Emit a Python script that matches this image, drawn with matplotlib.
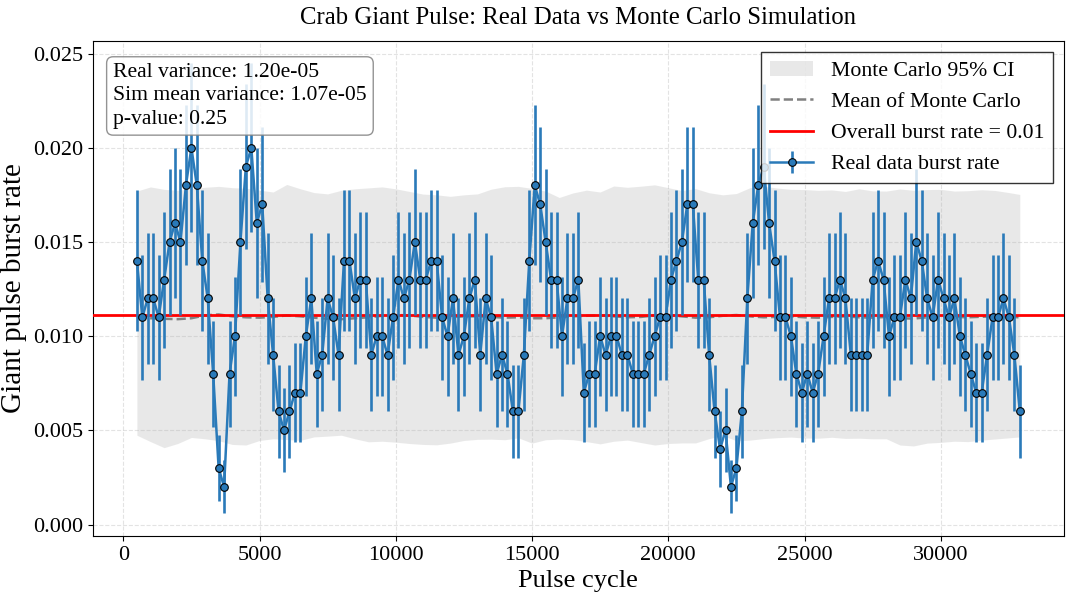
import numpy as np
import matplotlib
matplotlib.use('Agg')
import matplotlib.pyplot as plt
from matplotlib.patches import Patch
from matplotlib.lines import Line2D

plt.rcParams['font.family'] = ['Liberation Serif', 'DejaVu Serif']

# ── Real data: giant pulses per 1000-cycle window, window step 200
window_size = 1000
start_cycle = 500
step = 200
counts = [
    14, 11, 12, 12, 11, 13, 15, 16, 15, 18, 20, 18, 14, 12, 8, 3, 2, 8, 10, 15,
    19, 20, 16, 17, 12, 9, 6, 5, 6, 7, 7, 10, 12, 8, 9, 12, 11, 9, 14, 14,
    12, 13, 13, 9, 10, 10, 9, 11, 13, 12, 13, 15, 13, 13, 14, 14, 11, 10, 12, 9,
    10, 12, 13, 9, 12, 11, 8, 9, 8, 6, 6, 9, 14, 18, 17, 15, 13, 13, 10, 12,
    12, 13, 7, 8, 8, 10, 9, 10, 10, 9, 9, 8, 8, 8, 9, 10, 11, 11, 13, 14,
    15, 17, 17, 13, 13, 9, 6, 4, 5, 2, 3, 6, 12, 16, 18, 19, 16, 14, 11, 11,
    10, 8, 7, 8, 7, 8, 10, 12, 12, 13, 12, 9, 9, 9, 9, 13, 14, 13, 10, 11,
    11, 13, 12, 15, 14, 12, 11, 13, 12, 11, 12, 10, 9, 8, 7, 7, 9, 11, 11, 12,
    11, 9, 6,
]

# ── Monte Carlo summary (per 1000 cycles), read at coarser cycle positions
mc_cycles = [
    500, 1000, 1500, 2000, 2500, 3000, 3500, 4000, 4500, 5000, 5500, 6000,
    6500, 7000, 7500, 8000, 8500, 9000, 9500, 10000, 10500, 11000, 11500,
    12000, 12500, 13000, 13500, 14000, 14500, 15000, 15500, 16000, 16500,
    17000, 17500, 18000, 18500, 19000, 19500, 20000, 20500, 21000, 21500,
    22000, 22500, 23000, 23500, 24000, 24500, 25000, 25500, 26000, 26500,
    27000, 27500, 28000, 28500, 29000, 29500, 30000, 30500, 31000, 31500,
    32000, 32500, 32900,
]
mc_upper = [
    17.70, 17.92, 17.79, 17.74, 17.83, 17.90, 17.95, 17.88, 17.85, 17.75, 17.65, 18.05,
    17.82, 17.62, 17.55, 17.74, 17.82, 17.87, 17.92, 17.82, 17.68, 17.54, 17.50,
    17.42, 17.50, 17.55, 17.80, 17.93, 17.95, 17.84, 17.70, 17.36, 17.60,
    17.75, 17.65, 17.97, 17.90, 17.96, 18.03, 17.88, 17.73, 17.83, 17.61,
    17.50, 17.57, 17.88, 17.95, 17.86, 17.79, 17.78, 17.74, 17.76, 17.68,
    17.82, 17.71, 17.70, 17.81, 17.74, 17.78, 17.79, 17.70, 17.72, 17.77,
    17.73, 17.62, 17.52,
]
mc_lower = [
    4.74, 4.40, 4.08, 4.30, 4.62, 4.55, 4.45, 4.25, 4.22, 4.46, 4.55, 4.51,
    4.47, 4.65, 4.69, 4.74, 4.55, 4.39, 4.42, 4.37, 4.30, 4.25, 4.23,
    4.32, 4.46, 4.52, 4.53, 4.50, 4.60, 4.32, 4.50, 4.53, 4.50,
    4.40, 4.28, 4.42, 4.48, 4.35, 4.22, 4.30, 4.33, 4.33, 4.56,
    4.72, 4.45, 4.48, 4.56, 4.61, 4.64, 4.59, 4.58, 4.63, 4.57,
    4.58, 4.55, 4.55, 4.22, 4.17, 4.32, 4.36, 4.42, 4.40, 4.48,
    4.54, 4.60, 4.65,
]
mc_mean = [
    11.00, 10.95, 10.92, 10.90, 10.95, 11.10, 11.15, 11.05, 11.00, 10.98, 11.02, 11.10,
    11.05, 10.98, 10.92, 10.90, 10.95, 11.00, 11.08, 11.12, 11.10, 11.02, 10.98,
    11.00, 11.05, 11.05, 11.02, 10.98, 11.00, 10.95, 10.95, 11.00, 11.05,
    11.08, 11.10, 11.05, 11.00, 11.02, 11.10, 11.12, 11.05, 10.98, 11.00,
    11.08, 11.12, 11.05, 11.00, 11.02, 11.05, 11.00, 10.98, 11.02, 11.05,
    11.00, 10.98, 11.02, 10.95, 10.93, 11.00, 11.05, 11.02, 11.00, 11.03,
    11.05, 11.02, 11.00,
]

overall_rate = 0.0111
real_var = 1.20e-05
sim_var = 1.07e-05
p_value = 0.25

# ── derived arrays
counts = np.array(counts)
cycles = start_cycle + step * np.arange(len(counts))
rate = counts / window_size
rate_err = np.sqrt(counts) / window_size
mc_cycles = np.array(mc_cycles)
mc_upper = np.array(mc_upper) / window_size
mc_lower = np.array(mc_lower) / window_size
mc_mean = np.array(mc_mean) / window_size

fig, ax = plt.subplots(figsize=(10.72, 6), dpi=100)
fig.subplots_adjust(left=0.0865, right=0.9925, top=0.9317, bottom=0.1067)

ax.fill_between(mc_cycles, mc_lower, mc_upper, color='lightgray', alpha=0.5,
                linewidth=0, zorder=1)
ax.plot(mc_cycles, mc_mean, color='gray', ls='--', lw=1.8, zorder=2)
ax.axhline(overall_rate, color='red', lw=2, zorder=3)
ax.errorbar(cycles, rate, yerr=rate_err, fmt='-o', color='#2a7ab9', lw=1.8,
            elinewidth=1.9, capsize=0, markersize=5.5, markerfacecolor='#2a7ab9',
            markeredgecolor='black', markeredgewidth=0.8, zorder=4)

ax.set_title('Crab Giant Pulse: Real Data vs Monte Carlo Simulation', fontsize=17.8, pad=12)
ax.set_xlabel('Pulse cycle', fontsize=19)
ax.set_ylabel('Giant pulse burst rate', fontsize=21)
ax.tick_params(labelsize=16)
ax.grid(True, ls='--', alpha=0.35)

stats_text = (f'Real variance: {real_var:.2e}\n'
              f'Sim mean variance: {sim_var:.2e}\n'
              f'p-value: {p_value:.2f}')
ax.text(0.021, 0.955, stats_text, transform=ax.transAxes, fontsize=15.6, va='top',
        linespacing=1.3, zorder=6,
        bbox=dict(boxstyle='round', facecolor='white', edgecolor='gray', alpha=0.85))

handles = [
    Patch(facecolor='lightgray', alpha=0.5, label='Monte Carlo 95% CI'),
    Line2D([], [], color='gray', ls='--', lw=1.8, label='Mean of Monte Carlo'),
    Line2D([], [], color='red', lw=2, label=f'Overall burst rate = {overall_rate:.2f}'),
]
eb_handle = ax.containers[0]
leg = ax.legend(handles + [eb_handle],
                [h.get_label() for h in handles] + ['Real data burst rate'],
                loc='upper right', fontsize=15.7, fancybox=False, edgecolor='black',
                framealpha=0.8)
leg.set_zorder(7)

fig.savefig('out.png', dpi=100)
